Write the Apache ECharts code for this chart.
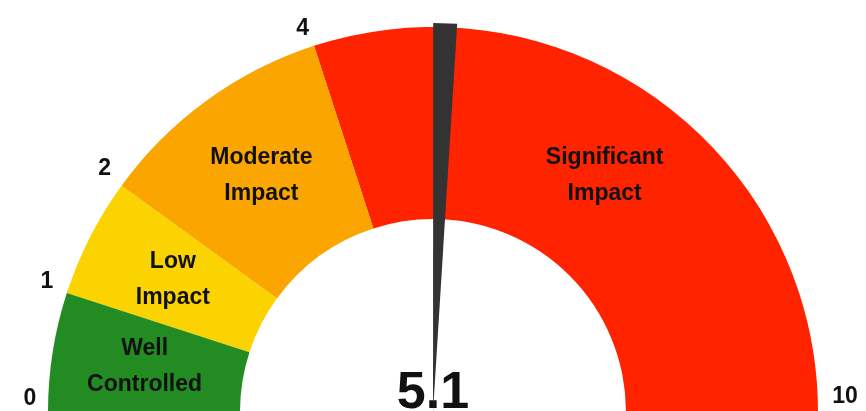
<!DOCTYPE html>
<html>
<head>
<meta charset="utf-8">
<script src="https://cdn.jsdelivr.net/npm/echarts@6/dist/echarts.min.js"></script>
<style>
  html, body { margin: 0; padding: 0; background: #ffffff; }
  #chart { width: 866px; height: 411px; }
</style>
</head>
<body>
<div id="chart"></div>
<script>
// Scale and risk bands
const scaleMin = 0;
const scaleMax = 10;
const bandEdges = [0, 1, 2, 4, 10];
const bandNames = ['Well\nControlled', 'Low\nImpact', 'Moderate\nImpact', 'Significant\nImpact'];
const bandColors = ['#228B22', '#FBD300', '#FBA500', '#FF2300'];
const tickLabels = [0, 1, 2, 4, 10];
const score = 5.1;

const FONT = '"Liberation Sans", Arial, Helvetica, sans-serif';
const CENTER = [433, 412];
const OUTER = 385;
const BAND_WIDTH = 192;

// gauge colour stops from the band edges
const lineColors = bandColors.map((c, i) => [(bandEdges[i + 1] - scaleMin) / (scaleMax - scaleMin), c]);

// pie slices used to place the band captions at the middle of each band
const bandSlices = bandNames.map((name, i) => ({
  name: name,
  value: bandEdges[i + 1] - bandEdges[i]
}));
bandSlices.push({
  name: '',
  value: scaleMax - scaleMin,
  itemStyle: { color: 'rgba(0,0,0,0)' },
  label: { show: false }
});

const chart = echarts.init(document.getElementById('chart'), null, { renderer: 'canvas' });

const tickText = { fontFamily: FONT, fontWeight: 'bold', fontSize: 23, color: '#111111' };

chart.setOption({
  animation: false,
  backgroundColor: '#ffffff',
  series: [
    {
      type: 'gauge',
      center: CENTER,
      radius: OUTER,
      startAngle: 180,
      endAngle: 0,
      min: scaleMin,
      max: scaleMax,
      splitNumber: 10,
      axisLine: {
        lineStyle: { width: BAND_WIDTH, color: lineColors }
      },
      splitLine: { show: false, length: 0 },
      axisTick: { show: false },
      axisLabel: {
        distance: -31,
        rotate: 360,   // a full turn keeps labels upright and centred on their anchor
        color: '#111111',
        fontFamily: FONT,
        fontWeight: 'bold',
        fontSize: 23,
        formatter: function (v) {
          if (tickLabels.indexOf(v) < 0) return '';
          if (v === scaleMin) return '{lo|' + v + '}';
          if (v === scaleMax) return '{hi|' + v + '}';
          if (v === 4) return '{up|' + v + '}';
          return '{n|' + v + '}';
        },
        rich: {
          n: Object.assign({ padding: [0, 0, 10, 0] }, tickText),
          up: Object.assign({ padding: [6, 10, 0, 0] }, tickText),
          lo: Object.assign({ padding: [0, 0, 26, 6] }, tickText),
          hi: Object.assign({ padding: [0, 0, 30, 12] }, tickText)
        }
      },
      pointer: {
        show: true,
        icon: 'path://M0 0 L24 0 L12 400 Z',
        width: 24,
        length: '101%',
        offsetCenter: [0, 0],
        itemStyle: { color: '#333333' }
      },
      anchor: { show: false },
      progress: { show: false },
      title: { show: false },
      detail: {
        show: true,
        offsetCenter: [0, -18],
        formatter: function (v) { return v.toFixed(1); },
        color: '#111111',
        fontFamily: FONT,
        fontWeight: 'bold',
        fontSize: 52
      },
      data: [{ value: score, name: '' }]
    },
    {
      type: 'pie',
      z: 3,
      silent: true,
      center: CENTER,
      radius: [OUTER - BAND_WIDTH, OUTER],
      startAngle: 180,
      clockwise: true,
      avoidLabelOverlap: false,
      itemStyle: { color: 'rgba(0,0,0,0)' },
      emphasis: { disabled: true },
      label: {
        show: true,
        position: 'inside',
        color: '#111111',
        fontFamily: FONT,
        fontWeight: 'bold',
        fontSize: 23,
        lineHeight: 36
      },
      labelLine: { show: false },
      data: bandSlices
    }
  ]
});
</script>
</body>
</html>
